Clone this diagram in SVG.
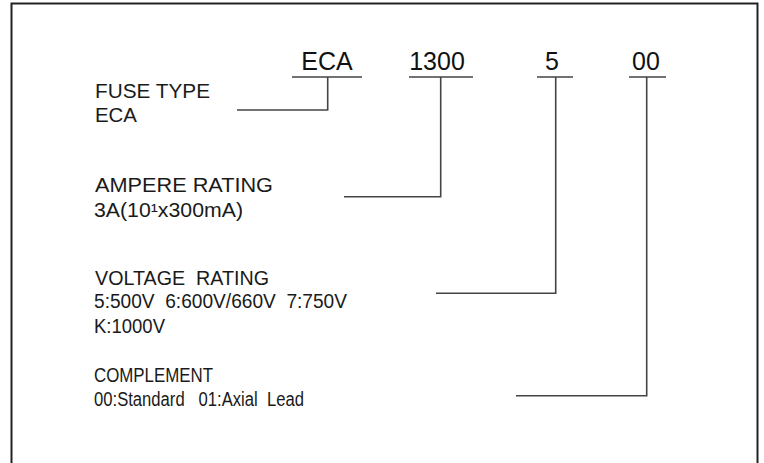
<svg xmlns="http://www.w3.org/2000/svg" width="764" height="463" viewBox="0 0 764 463">
<style>
.code{font-family:"Liberation Sans",Arial,sans-serif;font-size:25px;fill:#111;text-anchor:middle}
.lbl{font-family:"Liberation Sans",Arial,sans-serif;font-size:19.5px;fill:#1a1a1a}
.ln{stroke:#444;stroke-width:1.6;fill:none}
</style>
<rect x="11.5" y="3.5" width="746" height="480" fill="#fff" stroke="#222" stroke-width="2"/>
<g id="codes">
<text class="code" x="327" y="69.5">ECA</text>
<text class="code" x="437" y="69.5">1300</text>
<text class="code" x="552" y="69.5">5</text>
<text class="code" x="646" y="69.5">00</text>
</g>
<g id="node-fuse-type">
<text class="lbl" x="95" y="98" textLength="115" lengthAdjust="spacingAndGlyphs">FUSE TYPE</text>
<text class="lbl" x="95" y="122" textLength="42" lengthAdjust="spacingAndGlyphs">ECA</text>
</g>
<g id="node-ampere">
<text class="lbl" x="95" y="191.5" textLength="178" lengthAdjust="spacingAndGlyphs">AMPERE RATING</text>
<text class="lbl" x="94" y="216.5" textLength="149" lengthAdjust="spacingAndGlyphs">3A(10¹x300mA)</text>
</g>
<g id="node-voltage">
<text class="lbl" x="95" y="285" textLength="174" lengthAdjust="spacingAndGlyphs" xml:space="preserve">VOLTAGE  RATING</text>
<text class="lbl" x="94" y="307.7" textLength="253" lengthAdjust="spacingAndGlyphs" xml:space="preserve">5:500V  6:600V/660V  7:750V</text>
<text class="lbl" x="94" y="332.7" textLength="71" lengthAdjust="spacingAndGlyphs">K:1000V</text>
</g>
<g id="node-complement">
<text class="lbl" x="94" y="382.3" textLength="119" lengthAdjust="spacingAndGlyphs">COMPLEMENT</text>
<text class="lbl" x="94" y="406" textLength="210" lengthAdjust="spacingAndGlyphs" xml:space="preserve">00:Standard   01:Axial  Lead</text>
</g>
<g id="connectors">
<path class="ln" d="M292 77H362M327.7 77V110H237"/>
<path class="ln" d="M409 77H473M440.7 77V196.7H344"/>
<path class="ln" d="M537 77H573M555.7 77V293.3H436"/>
<path class="ln" d="M629 77H666M646.7 77V395.7H516"/>
</g>
</svg>
